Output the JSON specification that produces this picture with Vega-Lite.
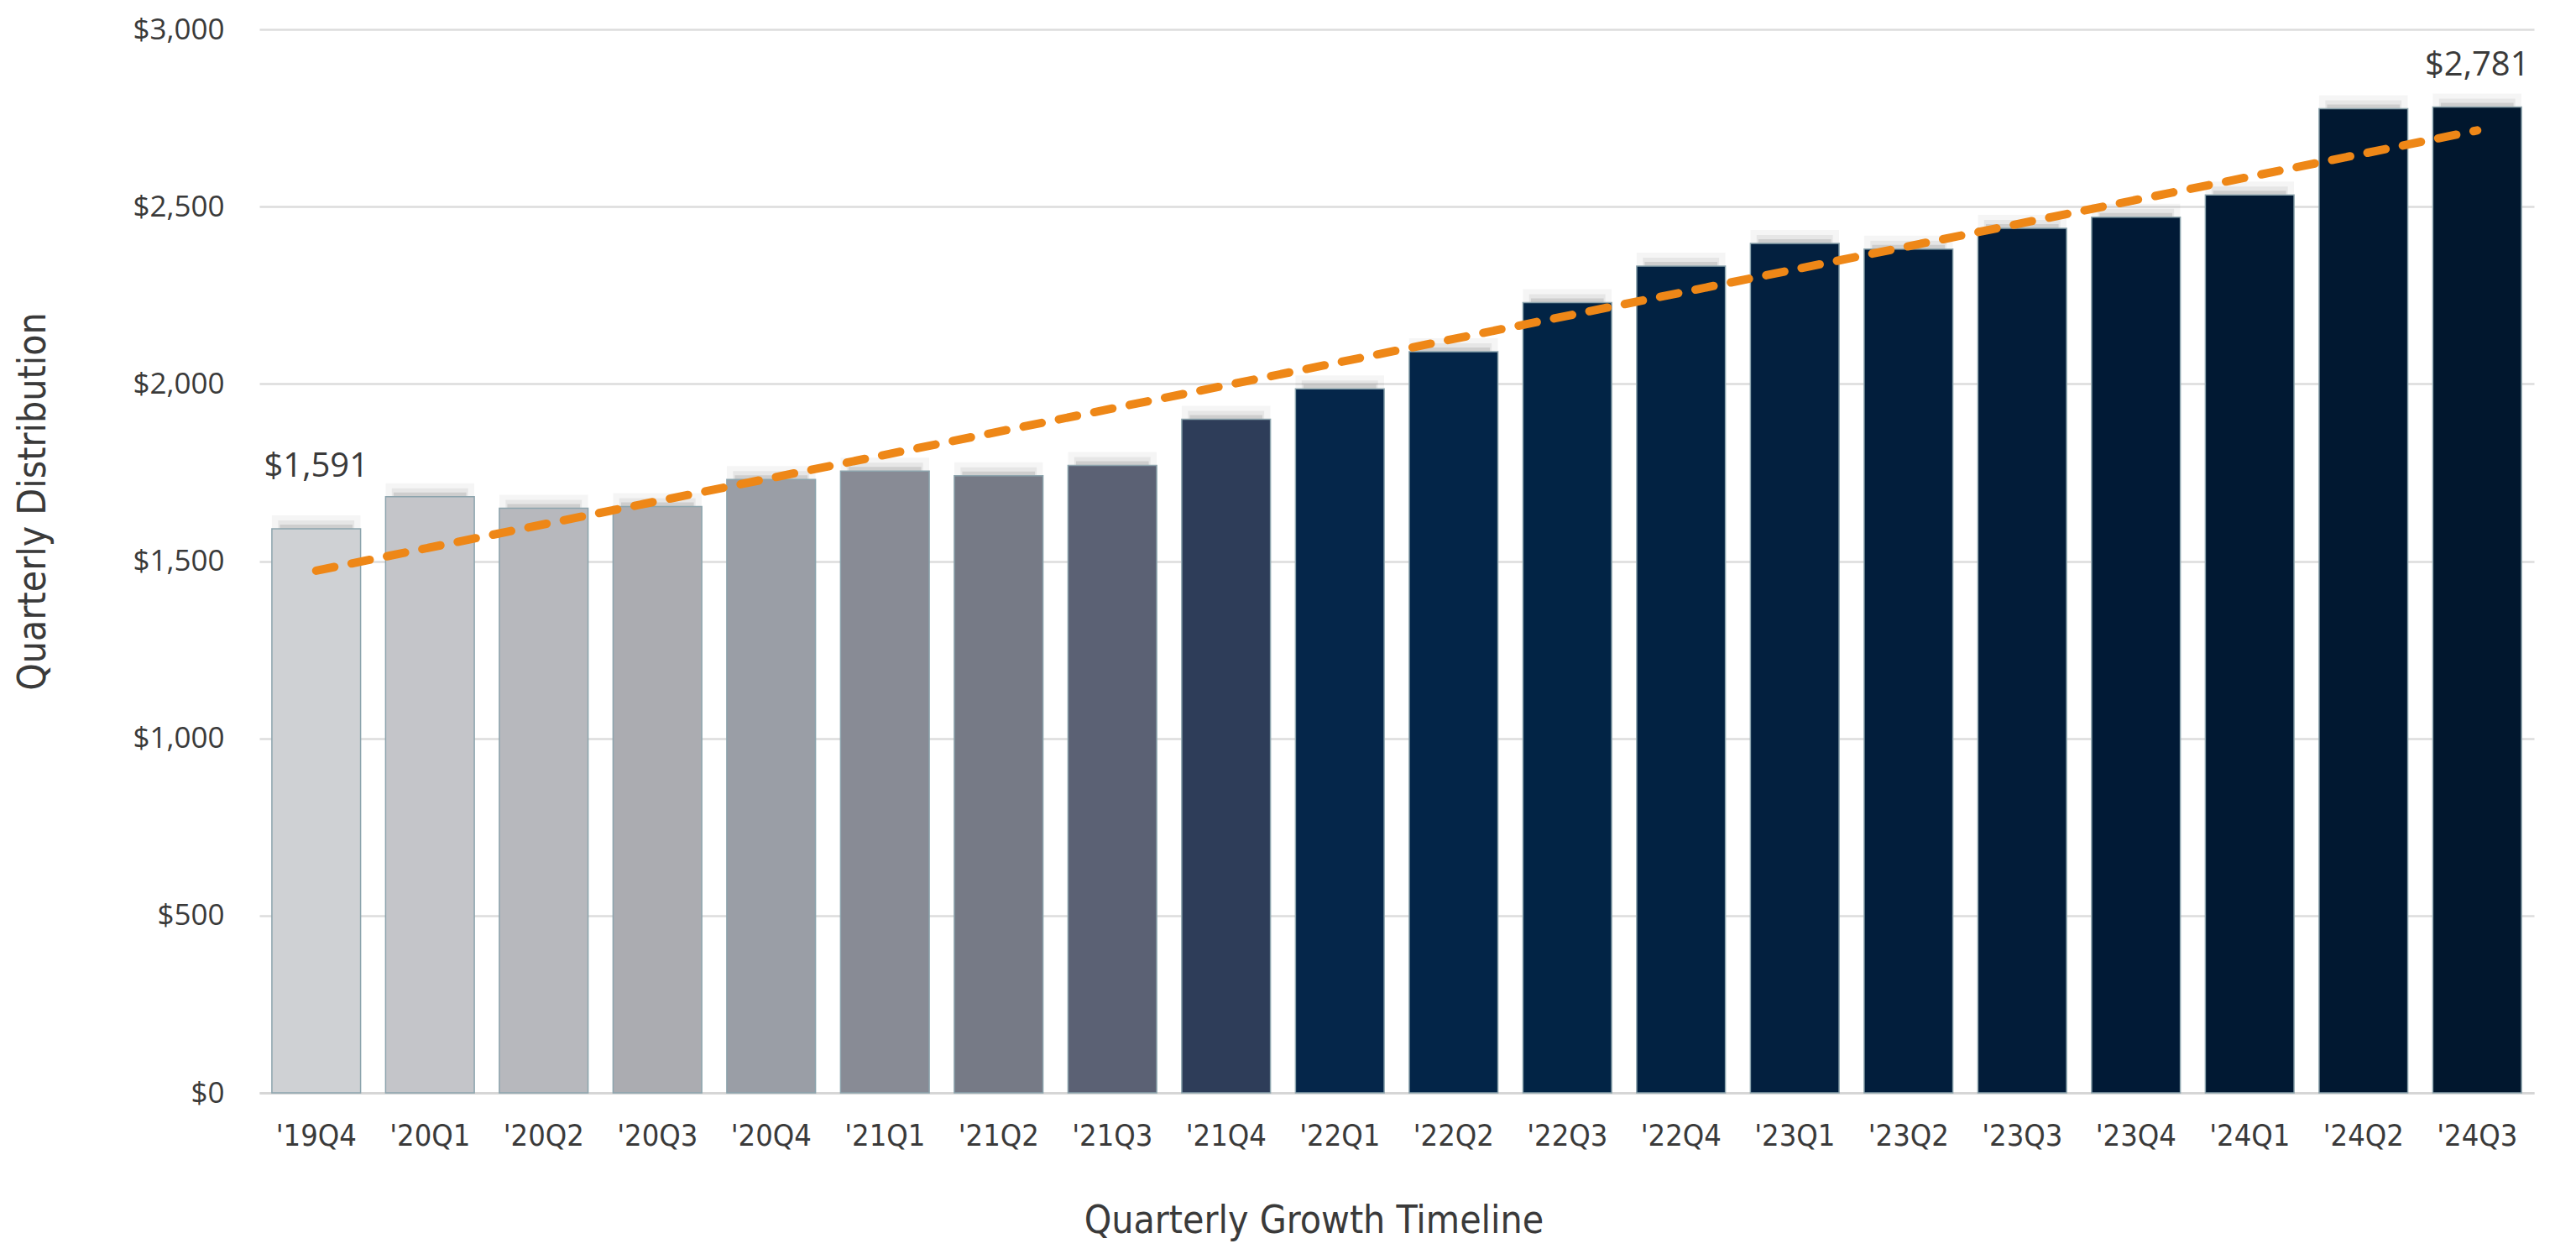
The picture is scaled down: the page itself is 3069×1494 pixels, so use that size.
{
  "$schema": "https://vega.github.io/schema/vega-lite/v6.json",
  "width": 2710,
  "height": 1267,
  "autosize": {"type": "none"},
  "padding": {"left": 309, "top": 35, "right": 50, "bottom": 192},
  "background": "#ffffff",
  "config": {
    "view": {"stroke": null},
    "font": "Open Sans"
  },
  "datasets": {
    "bars": [
      {"q": "'19Q4", "value": 1591},
      {"q": "'20Q1", "value": 1682},
      {"q": "'20Q2", "value": 1649},
      {"q": "'20Q3", "value": 1654},
      {"q": "'20Q4", "value": 1730},
      {"q": "'21Q1", "value": 1754},
      {"q": "'21Q2", "value": 1741},
      {"q": "'21Q3", "value": 1770},
      {"q": "'21Q4", "value": 1900},
      {"q": "'22Q1", "value": 1986},
      {"q": "'22Q2", "value": 2091},
      {"q": "'22Q3", "value": 2229},
      {"q": "'22Q4", "value": 2332},
      {"q": "'23Q1", "value": 2396},
      {"q": "'23Q2", "value": 2380},
      {"q": "'23Q3", "value": 2439},
      {"q": "'23Q4", "value": 2470},
      {"q": "'24Q1", "value": 2533},
      {"q": "'24Q2", "value": 2776},
      {"q": "'24Q3", "value": 2781}
    ],
    "trend": [
      {"q": "'19Q4", "trend": 1473},
      {"q": "'24Q3", "trend": 2715}
    ]
  },
  "encoding": {
    "x": {
      "field": "q",
      "type": "nominal",
      "sort": null,
      "scale": {
        "domain": ["'19Q4","'20Q1","'20Q2","'20Q3","'20Q4","'21Q1","'21Q2","'21Q3","'21Q4","'22Q1","'22Q2","'22Q3","'22Q4","'23Q1","'23Q2","'23Q3","'23Q4","'24Q1","'24Q2","'24Q3"],
        "paddingInner": 0.22,
        "paddingOuter": 0.11
      },
      "axis": {
        "title": "Quarterly Growth Timeline",
        "titleFont": "DejaVu Sans Condensed, Lato, sans-serif",
        "titleFontSize": 46,
        "titleFontWeight": "normal",
        "titleColor": "#3a3a3a",
        "titleAlign": "center",
        "titleBaseline": "alphabetic",
        "titleX": 1256,
        "titleY": 166,
        "labelFont": "DejaVu Sans Condensed, Lato, sans-serif",
        "labelFontSize": 36,
        "labelColor": "#3a3a3a",
        "labelAngle": 0,
        "labelPadding": 34,
        "ticks": false,
        "tickSize": 0,
        "domain": true,
        "domainColor": "#d6d6d6",
        "domainWidth": 3,
        "grid": false
      }
    }
  },
  "layer": [
    {
      "data": {"name": "bars"},
      "mark": {"type": "bar", "width": {"band": 1.0}, "color": "#000000", "opacity": 0.04, "yOffset": -16},
      "encoding": {
        "y": {"field": "value", "type": "quantitative", "scale": {"domain": [0, 3000], "nice": false},
          "axis": {
            "title": "Quarterly Distribution",
            "titleFont": "DejaVu Sans Condensed, Lato, sans-serif",
            "titleFontSize": 46,
            "titleFontWeight": "normal",
            "titleColor": "#3a3a3a",
            "titleAngle": -90,
            "titleAlign": "center",
            "titleBaseline": "alphabetic",
            "titleX": -256,
            "titleY": 562,
            "values": [0, 500, 1000, 1500, 2000, 2500, 3000],
            "format": "$,.0f",
            "labelFont": "Open Sans",
            "labelFontSize": 35,
            "labelColor": "#3a3a3a",
            "labelPadding": 42,
            "ticks": false,
            "tickSize": 0,
            "domain": false,
            "grid": true,
            "gridColor": "#dcdcdc",
            "gridWidth": 2.5
          }
        }
      }
    },
    {
      "data": {"name": "bars"},
      "mark": {"type": "bar", "width": {"band": 0.86}, "color": "#000000", "opacity": 0.06, "yOffset": -10},
      "encoding": {"y": {"field": "value", "type": "quantitative"}}
    },
    {
      "data": {"name": "bars"},
      "mark": {"type": "bar", "width": {"band": 0.82}, "color": "#000000", "opacity": 0.1, "yOffset": -5},
      "encoding": {"y": {"field": "value", "type": "quantitative"}}
    },
    {
      "data": {"name": "bars"},
      "mark": {"type": "bar", "stroke": "#8ca4ad", "strokeWidth": 1.5},
      "encoding": {
        "y": {"field": "value", "type": "quantitative"},
        "color": {
          "field": "q",
          "type": "nominal",
          "sort": null,
          "legend": null,
          "scale": {
            "domain": ["'19Q4","'20Q1","'20Q2","'20Q3","'20Q4","'21Q1","'21Q2","'21Q3","'21Q4","'22Q1","'22Q2","'22Q3","'22Q4","'23Q1","'23Q2","'23Q3","'23Q4","'24Q1","'24Q2","'24Q3"],
            "range": ["#cfd1d4","#c4c5c9","#b7b8bd","#abacb1","#9a9ea6","#888b95","#767a86","#5b6174","#2e3d59","#05264a","#032548","#022445","#022242","#03203f","#021e3c","#021c39","#011a36","#011933","#011831","#01172e"]
          }
        }
      }
    },
    {
      "data": {"name": "trend"},
      "mark": {"type": "line", "color": "#EE8717", "strokeWidth": 10, "strokeCap": "round", "strokeDash": [22, 21]},
      "encoding": {"y": {"field": "trend", "type": "quantitative"}}
    },
    {
      "data": {"name": "bars"},
      "transform": [{"filter": "datum.q === \"'19Q4\""}],
      "mark": {"type": "text", "font": "Open Sans", "fontSize": 40, "color": "#3a3a3a", "baseline": "alphabetic", "align": "center", "dy": -62},
      "encoding": {
        "y": {"field": "value", "type": "quantitative"},
        "text": {"field": "value", "type": "quantitative", "format": "$,.0f"}
      }
    },
    {
      "data": {"name": "bars"},
      "transform": [{"filter": "datum.q === \"'24Q3\""}],
      "mark": {"type": "text", "font": "Open Sans", "fontSize": 40, "color": "#3a3a3a", "baseline": "alphabetic", "align": "center", "dy": -37},
      "encoding": {
        "y": {"field": "value", "type": "quantitative"},
        "text": {"field": "value", "type": "quantitative", "format": "$,.0f"}
      }
    }
  ]
}
